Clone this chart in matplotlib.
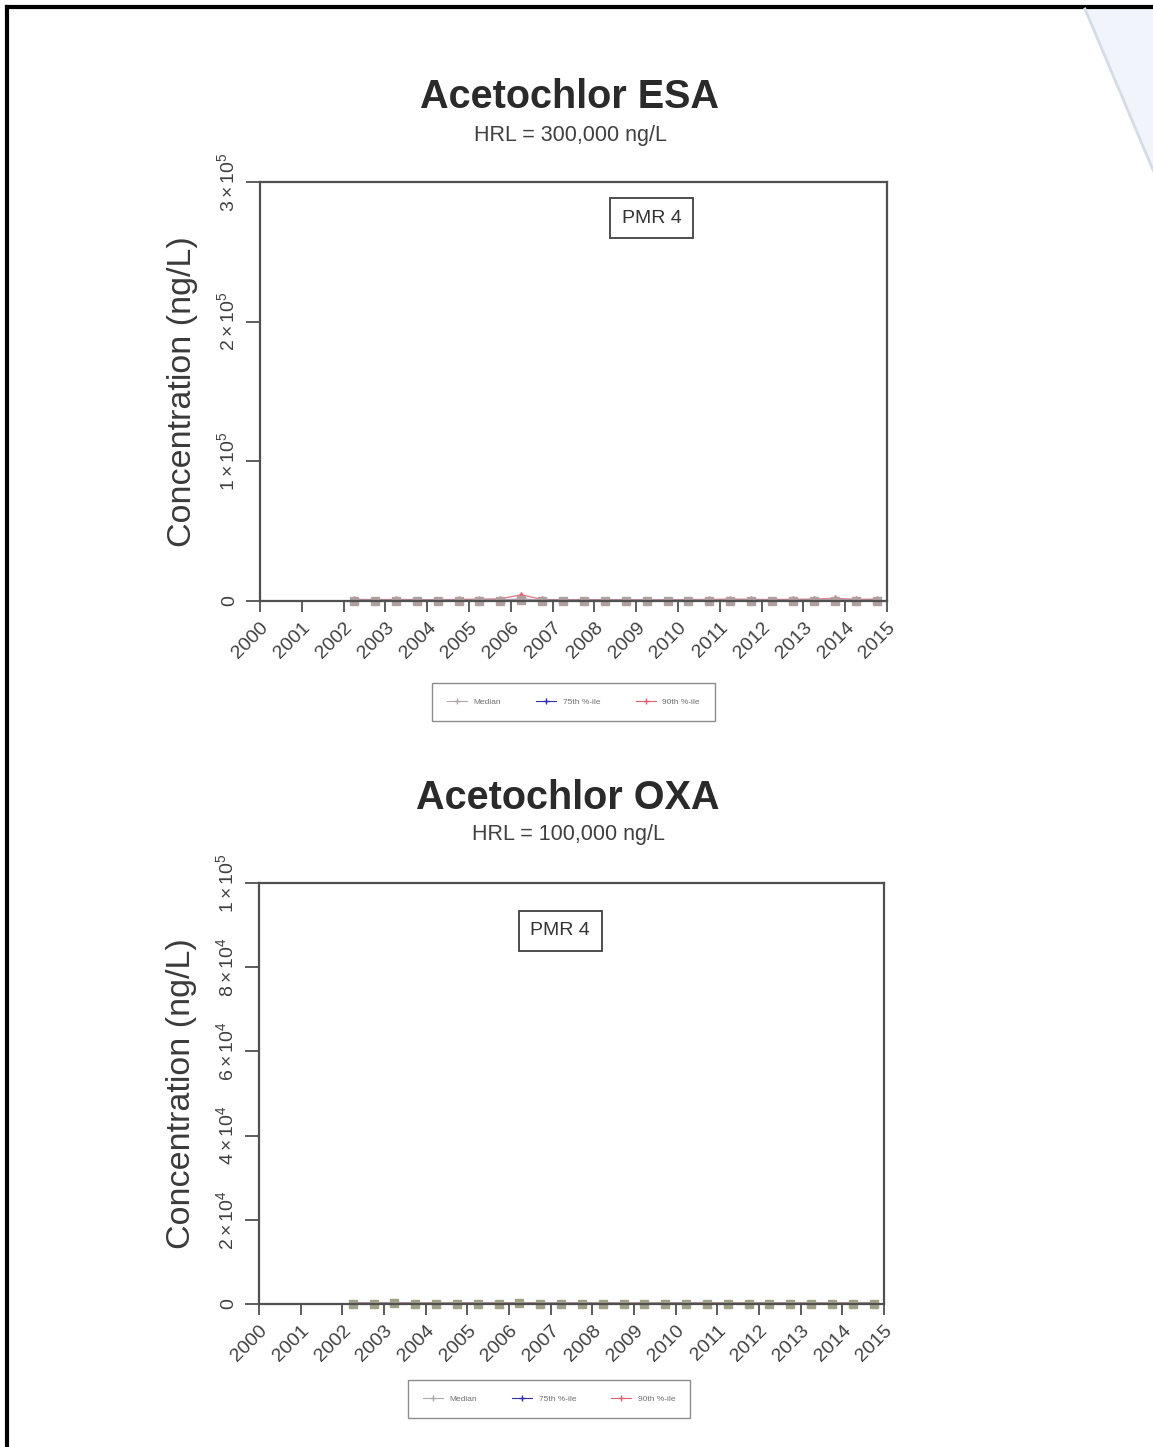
import numpy as np
import matplotlib.pyplot as plt
from matplotlib.lines import Line2D
from matplotlib.patches import Polygon

plt.rcParams['font.family'] = ['Liberation Sans', 'DejaVu Sans']
plt.rcParams['mathtext.fontset'] = 'custom'
plt.rcParams['mathtext.rm'] = 'Liberation Sans'
plt.rcParams['mathtext.it'] = 'Liberation Sans'

years = [2002.25, 2002.75, 2003.25, 2003.75, 2004.25, 2004.75, 2005.25, 2005.75,
         2006.25, 2006.75, 2007.25, 2007.75, 2008.25, 2008.75, 2009.25, 2009.75,
         2010.25, 2010.75, 2011.25, 2011.75, 2012.25, 2012.75, 2013.25, 2013.75,
         2014.25, 2014.75]

esa_median = [300, 250, 300, 300, 250, 300, 300, 350, 600, 300, 250, 300, 250,
              250, 250, 250, 300, 300, 300, 300, 250, 300, 300, 350, 300, 300]
esa_p75 = [600, 500, 600, 550, 500, 600, 650, 700, 1500, 600, 500, 550, 500,
           500, 450, 500, 550, 600, 650, 600, 550, 600, 650, 800, 600, 650]
esa_p90 = [1200, 900, 1100, 1000, 900, 1100, 1300, 1500, 4500, 1100, 900, 1000,
           900, 900, 800, 900, 1000, 1100, 1300, 1200, 1000, 1200, 1300, 2000,
           1100, 1300]

oxa_median = [100, 100, 120, 100, 100, 110, 100, 100, 120, 100, 100, 110, 100,
              100, 100, 100, 110, 100, 100, 100, 110, 100, 100, 100, 110, 100]
oxa_p75 = [180, 170, 200, 180, 170, 190, 180, 180, 200, 180, 170, 190, 180,
           170, 170, 180, 190, 180, 180, 170, 190, 180, 180, 170, 190, 180]
oxa_p90 = [260, 240, 280, 250, 240, 270, 260, 260, 290, 250, 240, 270, 250,
           240, 240, 250, 270, 260, 250, 240, 270, 260, 250, 240, 270, 260]

year_ticks = list(range(2000, 2016))
series_names = ['Median', '75th %-ile', '90th %-ile']

esa_yticks = [0, 100000, 200000, 300000]
esa_ylabels = ['0', r'$1\times10^5$', r'$2\times10^5$', r'$3\times10^5$']
oxa_yticks = [0, 20000, 40000, 60000, 80000, 100000]
oxa_ylabels = ['0', r'$2\times10^4$', r'$4\times10^4$', r'$6\times10^4$',
               r'$8\times10^4$', r'$1\times10^5$']

W, H = 1153, 1447
fig = plt.figure(figsize=(W / 100, H / 100), dpi=100)
fig.patch.set_facecolor('white')


def px_axes(left, top, right, bottom):
    # place an axes using pixel positions of the scanned page
    return fig.add_axes([left / W, 1 - bottom / H, (right - left) / W, (bottom - top) / H])


def draw_panel(ax, med, p75, p90, ymax, yticks, ylabels, pmr_pos, leg_pos, med_color):
    ax.plot(years, p90, color='#e06070', marker='^', markersize=4, lw=1, alpha=0.8,
            clip_on=False)
    ax.plot(years, p75, color='#4040a0', marker='+', markersize=5, lw=1, alpha=0.5,
            clip_on=False)
    ax.plot(years, med, color=med_color, marker='s', markersize=5.5, lw=1.5,
            clip_on=False)

    ax.set_xlim(2000, 2015)
    ax.set_ylim(0, ymax)
    ax.set_xticks(year_ticks)
    ax.set_xticklabels([str(y) for y in year_ticks], rotation=45, ha='right',
                       va='top', rotation_mode='anchor', fontsize=14, color='#404040')
    ax.set_yticks(yticks)
    ax.set_yticklabels(ylabels, rotation=90, va='center', fontsize=14, color='#404040')
    ax.tick_params(axis='x', length=8, width=1.3, color='#505050', pad=5)
    ax.tick_params(axis='y', length=10, width=1.3, color='#505050', pad=6)
    for s in ax.spines.values():
        s.set_color('#505050')
        s.set_linewidth(1.6)

    ax.set_ylabel('Concentration (ng/L)', fontsize=24.5, color='#3a3a3a', labelpad=13)

    ax.text(pmr_pos[0], pmr_pos[1], 'PMR 4', transform=ax.transAxes, ha='center',
            va='center', fontsize=14, color='#333333',
            bbox=dict(boxstyle='square,pad=0.6', fc='white', ec='#404040', lw=1.3))

    handles = [Line2D([], [], color='#b0a8a8', marker='+', lw=0.8, markersize=4),
               Line2D([], [], color='#3030a0', marker='+', lw=0.8, markersize=4),
               Line2D([], [], color='#e06070', marker='+', lw=0.8, markersize=4)]
    leg = ax.legend(handles, series_names, loc='center', bbox_to_anchor=leg_pos,
                    ncol=3, fontsize=6, frameon=True, fancybox=False,
                    handlelength=2.4, columnspacing=4.2, borderpad=1.8,
                    labelcolor='#707070')
    leg.get_frame().set_edgecolor('#707070')
    leg.get_frame().set_linewidth(1.0)


ax1 = px_axes(260, 182, 887, 601)
draw_panel(ax1, esa_median, esa_p75, esa_p90, 300000, esa_yticks, esa_ylabels,
           (0.625, 0.914), (0.5, -0.241), '#b0a0a0')
fig.text(570 / W, 1 - 97 / H, 'Acetochlor ESA', ha='center', va='center',
         fontsize=28.5, fontweight='bold', color='#2a2a2a')
fig.text(571 / W, 1 - 135 / H, 'HRL = 300,000 ng/L', ha='center', va='center',
         fontsize=15.5, color='#404040')

ax2 = px_axes(259, 883, 884, 1304)
draw_panel(ax2, oxa_median, oxa_p75, oxa_p90, 100000, oxa_yticks, oxa_ylabels,
           (0.482, 0.886), (0.464, -0.226), '#a0a088')
fig.text(568 / W, 1 - 798 / H, 'Acetochlor OXA', ha='center', va='center',
         fontsize=28.5, fontweight='bold', color='#2a2a2a')
fig.text(568 / W, 1 - 835 / H, 'HRL = 100,000 ng/L', ha='center', va='center',
         fontsize=15.5, color='#404040')

# page border from the scan and the curled corner at the top right
fig.add_artist(Line2D([7 / W, 1], [1 - 7 / H, 1 - 7 / H], color='black', lw=3))
fig.add_artist(Line2D([7 / W, 7 / W], [0, 1 - 7 / H], color='black', lw=3))
fig.add_artist(Polygon([[1085 / W, 1 - 9 / H], [1, 1 - 9 / H], [1, 1 - 170 / H]],
                       closed=True, transform=fig.transFigure, fc='#f1f5fb', ec='none'))
fig.add_artist(Line2D([1085 / W, 1], [1 - 9 / H, 1 - 170 / H], color='#d4dce6', lw=2))

plt.savefig('out.png', dpi=100)
